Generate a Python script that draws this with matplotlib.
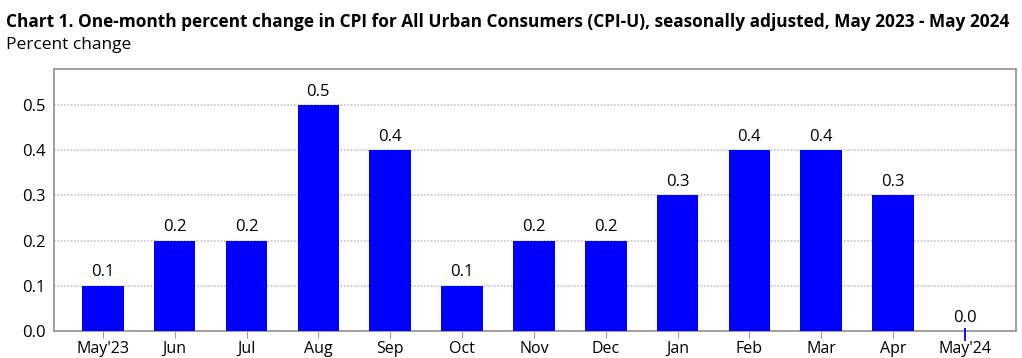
import matplotlib
matplotlib.use('Agg')
from matplotlib import pyplot as plt

months = ["May'23", 'Jun', 'Jul', 'Aug', 'Sep', 'Oct', 'Nov', 'Dec',
          'Jan', 'Feb', 'Mar', 'Apr', "May'24"]
pct_change = [0.1, 0.2, 0.2, 0.5, 0.4, 0.1, 0.2, 0.2, 0.3, 0.4, 0.4, 0.3, 0.0]
yticks = [0.0, 0.1, 0.2, 0.3, 0.4, 0.5]

plt.rcParams['font.family'] = ['Open Sans', 'DejaVu Sans']

fig = plt.figure(figsize=(10.22, 3.58), dpi=100)
ax = fig.add_axes([0.0528, 0.0754, 0.9413, 0.7318])

x = list(range(len(months)))
ax.bar(x, pct_change, width=0.58, color='#0000ff', zorder=3)

# value labels above bars
for xi, v in zip(x, pct_change):
    ax.text(xi, v + 0.012, '{:.1f}'.format(v), ha='center', va='bottom',
            fontsize=12, color='black', zorder=4)

ax.set_xlim(-0.68, 12.71)
ax.set_ylim(0, 0.58)
ax.set_xticks(x)
ax.set_xticklabels(months, fontsize=11.5)
ax.set_yticks(yticks)
ax.set_yticklabels(['{:.1f}'.format(t) for t in yticks], fontsize=12)

ax.yaxis.grid(True, color='#c8c0c8', linewidth=1.2, linestyle=(0, (1, 1)), zorder=0)
ax.tick_params(axis='x', direction='out', length=5, color='#999999', pad=2)
ax.tick_params(axis='y', length=0, pad=6)
for s in ax.spines.values():
    s.set_color('#999999')
    s.set_linewidth(1.3)

# the zero bar in May'24 shows only as a thin blue stub below the axis
ax.vlines(x[-1], -0.022, 0.006, color='#0000ff', linewidth=1.3, clip_on=False, zorder=5)

fig.text(0.006, 0.938, 'Chart 1. One-month percent change in CPI for All Urban Consumers (CPI-U), '
         'seasonally adjusted, May 2023 - May 2024',
         fontsize=12.45, fontweight='bold', ha='left', va='center')
fig.text(0.006, 0.875, 'Percent change', fontsize=12.5, ha='left', va='center')

fig.savefig('out.png', dpi=100)
